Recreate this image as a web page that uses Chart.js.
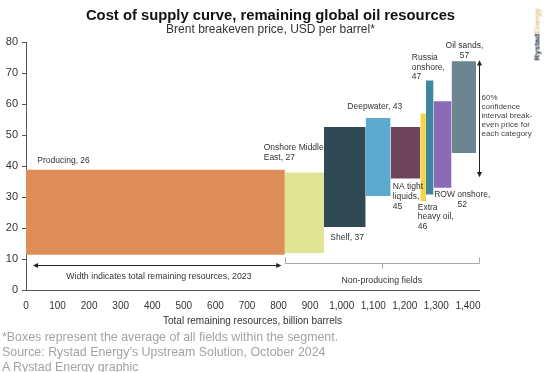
<!DOCTYPE html>
<html>
<head>
<meta charset="utf-8">
<script src="https://cdn.jsdelivr.net/npm/chart.js@4.4.1/dist/chart.umd.min.js"></script>
<style>
  html, body { margin: 0; padding: 0; background: #fff; }
  #wrap { position: relative; width: 560px; height: 372px; overflow: hidden; font-family: "Liberation Sans", Arial, sans-serif; }
  #chartBox { position: absolute; left: 0; top: 0; width: 560px; height: 372px; }
  .title { position: absolute; left: 0; width: 541px; text-align: center; color: #111; }
  #t1 { top: 7px; font-size: 14.8px; font-weight: bold; }
  #t2 { top: 22px; font-size: 12px; color: #333; }
  #notes { position: absolute; left: 2px; top: 330px; font-size: 12.4px; line-height: 14.8px; color: #a3a3a3; }
  #logo { position: absolute; left: 512px; top: 31px; width: 50px; text-align: center; transform: rotate(-90deg); font-size: 8px; white-space: nowrap; }
  #logo b { color: #1d2a3a; }
  #logo span { color: #d9a860; }
</style>
</head>
<body>
<div id="wrap">
  <div id="chartBox"><canvas id="c"></canvas></div>
  <div class="title" id="t1">Cost of supply curve, remaining global oil resources</div>
  <div class="title" id="t2">Brent breakeven price, USD per barrel*</div>
  <div id="logo"><b>Rystad</b><span>Energy</span></div>
  <div id="notes">*Boxes represent the average of all fields within the segment.<br>Source: Rystad Energy’s Upstream Solution, October 2024<br>A Rystad Energy graphic</div>
</div>
<script>
// ---- data ----
const categories = ['Producing', 'Onshore Middle East', 'Shelf', 'Deepwater', 'NA tight liquids', 'Extra heavy oil', 'Russia onshore', 'ROW onshore', 'Oil sands'];
const breakevenAvg = [26, 27, 37, 43, 45, 46, 47, 52, 57];
const resourcesBn = [820, 124, 132, 79, 94, 18, 24, 57, 78];
const priceLow = [11.4, 11.9, 20.3, 30.3, 36.0, 28.6, 30.8, 33.0, 44.2];
const priceHigh = [38.8, 37.9, 52.6, 55.5, 52.6, 56.9, 67.6, 60.9, 73.8];
const yTicks = [0, 10, 20, 30, 40, 50, 60, 70, 80];
const xTicks = [0, 100, 200, 300, 400, 500, 600, 700, 800, 900, 1000, 1100, 1200, 1300, 1400];

// ---- styles ----
const boxColors = ['#df8d58', '#dfe595', '#2f4a55', '#5ca9cf', '#6d4459', '#f3d54e', '#3f87a1', '#8b6ab6', '#6f8491'];

// label placement (data coordinates)
const labelSpecs = [
  { x: 36, y: 41.8, align: 'left', lines: ['Producing, 26'] },
  { x: 753, y: 45.8, align: 'left', lines: ['Onshore Middle', 'East, 27'] },
  { x: 964, y: 17.0, align: 'left', lines: ['Shelf, 37'] },
  { x: 1018, y: 59.3, align: 'left', lines: ['Deepwater, 43'] },
  { x: 1162, y: 33.2, align: 'left', lines: ['NA tight', 'liquids,', '45'] },
  { x: 1241, y: 26.7, align: 'left', lines: ['Extra', 'heavy oil,', '46'] },
  { x: 1222, y: 75.0, align: 'left', lines: ['Russia', 'onshore,', '47'] },
  { x: 1382, y: 30.8, align: 'center', lines: ['ROW onshore,', '52'] },
  { x: 1389, y: 78.7, align: 'center', lines: ['Oil sands,', '57'] }
];

const cumStart = [];
resourcesBn.reduce((acc, w, i) => { cumStart[i] = acc; return acc + w; }, 0);

const datasets = categories.map((name, i) => ({
  label: name,
  data: [{ x: cumStart[i], y: priceHigh[i] }, { x: cumStart[i] + resourcesBn[i], y: priceHigh[i] }],
  fill: { value: priceLow[i] },
  backgroundColor: boxColors[i],
  borderWidth: 0,
  borderColor: 'rgba(0,0,0,0)',
  pointRadius: 0,
  showLine: true,
  tension: 0
}));

function arrowHead(ctx, x, y, dir) {
  const s = 3.2;
  ctx.beginPath();
  if (dir === 'left') { ctx.moveTo(x, y); ctx.lineTo(x + s * 1.6, y - s * 0.8); ctx.lineTo(x + s * 1.6, y + s * 0.8); }
  if (dir === 'right') { ctx.moveTo(x, y); ctx.lineTo(x - s * 1.6, y - s * 0.8); ctx.lineTo(x - s * 1.6, y + s * 0.8); }
  if (dir === 'up') { ctx.moveTo(x, y); ctx.lineTo(x - s * 0.8, y + s * 1.6); ctx.lineTo(x + s * 0.8, y + s * 1.6); }
  if (dir === 'down') { ctx.moveTo(x, y); ctx.lineTo(x - s * 0.8, y - s * 1.6); ctx.lineTo(x + s * 0.8, y - s * 1.6); }
  ctx.closePath();
  ctx.fill();
}

const annotations = {
  id: 'annotations',
  afterDatasetsDraw(chart) {
    const { ctx, scales: { x, y } } = chart;
    ctx.save();
    ctx.fillStyle = '#333';
    ctx.font = '8.5px "Liberation Sans", Arial, sans-serif';
    ctx.textBaseline = 'middle';
    labelSpecs.forEach(spec => {
      ctx.textAlign = spec.align;
      const px = x.getPixelForValue(spec.x);
      const py = y.getPixelForValue(spec.y);
      spec.lines.forEach((t, k) => ctx.fillText(t, px, py + k * 9.7));
    });

    // confidence interval arrow
    ctx.strokeStyle = '#222';
    ctx.fillStyle = '#222';
    ctx.lineWidth = 1;
    const ax = Math.round(x.getPixelForValue(1435)) + 0.5;
    const ay1 = y.getPixelForValue(74.1), ay2 = y.getPixelForValue(36.4);
    ctx.beginPath(); ctx.moveTo(ax, ay1 + 3); ctx.lineTo(ax, ay2 - 3); ctx.stroke();
    arrowHead(ctx, ax, ay1, 'up');
    arrowHead(ctx, ax, ay2, 'down');

    ctx.fillStyle = '#444';
    ctx.font = '8px "Liberation Sans", Arial, sans-serif';
    ctx.textAlign = 'left';
    const ciLines = ['60%', 'confidence', 'interval break-', 'even price for', 'each category'];
    const tx = x.getPixelForValue(1443), ty = y.getPixelForValue(61.9);
    ciLines.forEach((t, k) => ctx.fillText(t, tx, ty + k * 9));

    // width arrow
    ctx.fillStyle = '#222';
    const hy = Math.round(y.getPixelForValue(8.2)) + 0.5;
    const hx1 = x.getPixelForValue(22), hx2 = x.getPixelForValue(809);
    ctx.beginPath(); ctx.moveTo(hx1 + 3, hy); ctx.lineTo(hx2 - 3, hy); ctx.stroke();
    arrowHead(ctx, hx1, hy, 'left');
    arrowHead(ctx, hx2, hy, 'right');
    ctx.fillStyle = '#333';
    ctx.font = '8.8px "Liberation Sans", Arial, sans-serif';
    ctx.textAlign = 'center';
    ctx.fillText('Width indicates total remaining resources, 2023', x.getPixelForValue(421), y.getPixelForValue(4.4));

    // non-producing bracket
    ctx.strokeStyle = '#aaa';
    const bx1 = Math.round(x.getPixelForValue(820)) + 0.5, bx2 = Math.round(x.getPixelForValue(1434)) + 0.5;
    const bTop = y.getPixelForValue(10.5), bY = Math.round(y.getPixelForValue(8.6)) + 0.5;
    const bc = Math.round(x.getPixelForValue(1127)) + 0.5;
    ctx.beginPath();
    ctx.moveTo(bx1, bTop); ctx.lineTo(bx1, bY); ctx.lineTo(bx2, bY); ctx.lineTo(bx2, bTop);
    ctx.moveTo(bc, bY); ctx.lineTo(bc, y.getPixelForValue(6.9));
    ctx.stroke();
    ctx.fillText('Non-producing fields', x.getPixelForValue(1127), y.getPixelForValue(3.1));
    ctx.restore();
  }
};

new Chart(document.getElementById('c'), {
  type: 'scatter',
  data: { datasets },
  plugins: [annotations],
  options: {
    responsive: true,
    maintainAspectRatio: false,
    animation: false,
    devicePixelRatio: 1,
    layout: { padding: { top: 42, left: 0, right: 81, bottom: 40 } },
    plugins: { legend: { display: false }, tooltip: { enabled: false } },
    scales: {
      x: {
        type: 'linear',
        min: 0,
        max: 1435,
        afterFit(scale) { scale.height = 42; },
        afterBuildTicks(scale) { scale.ticks = xTicks.map(v => ({ value: v })); },
        grid: { display: true, drawOnChartArea: false, drawTicks: false },
        border: { display: true, color: '#555', width: 1 },
        ticks: {
          autoSkip: false, maxRotation: 0, padding: 10, color: '#333',
          font: { family: '"Liberation Sans", Arial, sans-serif', size: 10 },
          callback: v => v.toLocaleString('en-US')
        },
        title: {
          display: true, text: 'Total remaining resources, billion barrels', color: '#333',
          font: { family: '"Liberation Sans", Arial, sans-serif', size: 10 },
          padding: { top: 0, bottom: 5 }
        }
      },
      y: {
        type: 'linear',
        min: 0,
        max: 80,
        afterFit(scale) { scale.width = 26; },
        afterBuildTicks(scale) { scale.ticks = yTicks.map(v => ({ value: v })); },
        grid: { display: true, drawOnChartArea: false, drawTicks: true, tickLength: 4, color: '#555' },
        border: { display: true, color: '#555', width: 1 },
        ticks: {
          padding: 4, color: '#333',
          font: { family: '"Liberation Sans", Arial, sans-serif', size: 11 }
        }
      }
    }
  }
});
</script>
</body>
</html>
